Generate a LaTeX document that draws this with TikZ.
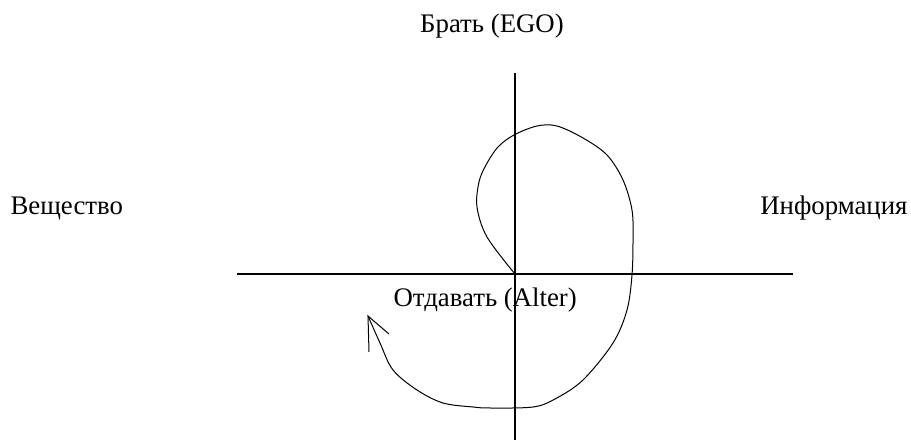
\documentclass[tikz,border=0pt]{standalone}
\usepackage{fontspec}
\setmainfont{Liberation Serif}
\tikzset{lbl/.style={inner sep=0pt,font=\fontsize{26.8}{30}\selectfont}}
\begin{document}
\begin{tikzpicture}[x=1pt,y=-1pt,line width=1.1pt]
\useasboundingbox (0,0) rectangle (911,443);
\coordinate (o) at (515,274);
\coordinate (top) at (515,73);
\coordinate (bot) at (515,440);
\coordinate (left) at (237,274);
\coordinate (right) at (793,274);
\draw (left) -- (right);
\draw (top) -- (bot);
\node[lbl,anchor=base] (ego) at (492,33) {Брать (EGO)};
\node[lbl,anchor=base west] (subst) at (10,215) {Вещество};
\node[lbl,anchor=base east] (info) at (908,215) {Информация};
\node[lbl,anchor=base west] (alter) at (393,307) {Отдавать (Alter)};
% spiral
\coordinate (tip) at (368,316);
\draw[line width=1pt]
  plot[smooth,tension=.55] coordinates {(o) (487,237) (477,207) (479,182) (486,165)
  (498,147) (514,135) (537,126) (557,126) (583,138) (607,155) (623,180)
  (632,210) (633,240) (632,275) (627,310) (613,343) (583,380) (555,399)
  (533,407) (490,408) (473,407) (443,403) (417,390) (393,370) (380,343) (tip)};
\draw[line width=1pt] (369,352) -- (tip) -- (389,334);
\end{tikzpicture}
\end{document}
